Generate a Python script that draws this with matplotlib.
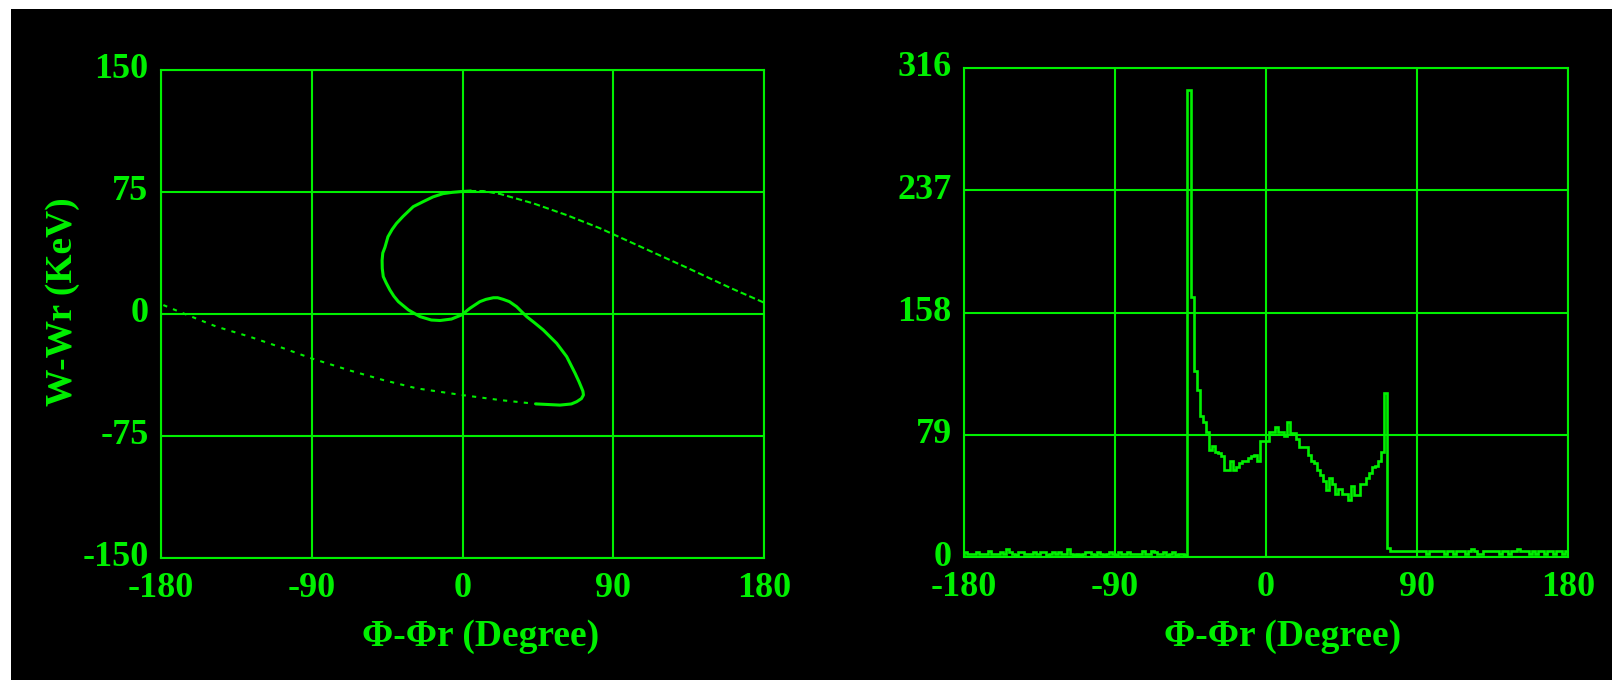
import numpy as np
import matplotlib.pyplot as plt
from matplotlib.patches import Rectangle
from matplotlib.transforms import ScaledTranslation

plt.rcParams["axes.unicode_minus"] = False

GREEN = "#00f000"
FONT = "Liberation Serif"

# phase-space trajectory, split into the sparse tails and the dense core
tail_lo_phi = [-178.6, -166.7, -146.8, -126.9, -107.0, -90.4, -67.0, -47.3, -27.4, -0.5, 22.4, 44.3]
tail_lo_w = [5.5, 0.4, -7.8, -14.0, -21.0, -27.2, -34.8, -40.6, -45.7, -49.8, -52.9, -55.3]

core_phi = [44.3, 58.2, 65.0, 68.2, 71.0, 72.2, 71.9, 71.2, 69.5, 67.2, 62.2, 56.2, 48.2,
            43.0, 38.3, 32.3, 28.0, 24.3, 21.0, 18.4, 14.0, 10.4, 4.4, -0.6, -6.6, -13.4,
            -18.6, -25.4, -32.3, -38.3, -41.0, -43.3, -45.5, -47.3, -47.9, -48.0, -47.6,
            -46.3, -44.5, -42.0, -39.4, -35.5, -29.4, -23.6, -17.6, -11.6, -6.0, -1.6, 4.5]
core_w = [-55.3, -56.0, -55.3, -53.9, -52.0, -49.8, -47.5, -45.7, -41.5, -36.4, -26.2, -18.0, -9.8,
          -5.4, -1.6, 4.5, 7.6, 9.0, 10.0, 10.0, 9.0, 7.6, 3.5, -0.6, -3.1, -4.0,
          -3.7, -1.6, 2.5, 7.6, 11.0, 14.7, 19.0, 23.0, 28.0, 33.0, 37.5,
          41.0, 47.5, 52.0, 55.7, 60.0, 66.0, 69.0, 72.0, 74.0, 74.8, 75.2, 75.6]

tail_hi_phi = [4.5, 12.4, 22.4, 42.3, 62.2, 82.1, 90.0, 135.0, 160.0, 180.0]
tail_hi_w = [75.6, 75.6, 73.8, 68.0, 60.8, 52.7, 49.0, 28.0, 16.0, 7.0]

# phase histogram, 200 bins over [-180, 180]
counts_left = [3, 2, 2, 2, 3, 2, 2, 2, 4, 2,
               2, 2, 3, 2, 5, 3, 2, 1, 3, 3,
               2, 2, 2, 3, 2, 3, 3, 1, 2, 3,
               2, 3, 2, 2, 5, 2, 1, 2, 1, 2,
               3, 3, 2, 1, 3, 2, 1, 2, 3, 2,
               1, 3, 2, 2, 3, 2, 2, 2, 2, 4,
               2, 2, 4, 3, 2, 2, 3, 1, 2, 3,
               1, 2, 2, 1]
counts_mid = [302, 168, 120, 108, 91, 87, 81, 69, 72, 68,
              67, 65, 56, 56, 62, 56, 58, 61, 62, 62,
              64, 65, 66, 62, 75, 75, 75, 81, 81, 84,
              81, 81, 78, 87, 80, 80, 76, 71, 71, 71,
              66, 62, 61, 56, 53, 49, 43, 51, 47, 41,
              44, 41, 41, 37, 46, 40, 40, 47, 47, 51,
              54, 58, 59, 62, 68, 106]
counts_right = [6, 4, 4, 4, 4, 4, 4, 4, 4, 4,
                4, 4, 4, 2, 4, 4, 4, 4, 4, 2,
                4, 4, 2, 4, 4, 4, 2, 4, 5, 4,
                2, 2, 4, 4, 4, 4, 4, 2, 4, 4,
                2, 4, 4, 5, 4, 4, 4, 2, 4, 2,
                4, 4, 2, 4, 4, 2, 4, 4, 2, 4]

x_ticks = [-180, -90, 0, 90, 180]
w_ticks = [-150, -75, 0, 75, 150]
n_ticks = [0, 79, 158, 237, 316]

W, H = 1612, 680
fig = plt.figure(figsize=(W / 100, H / 100), dpi=100, facecolor="white")
# black screen area inside a thin white margin
fig.patches.append(Rectangle((11 / W, 0), 1 - 11 / W, 1 - 9 / H,
                             transform=fig.transFigure, facecolor="black",
                             edgecolor="none", zorder=-10))

# y tick labels sit a few pixels above their grid line
lift = ScaledTranslation(0, 4 / 100, fig.dpi_scale_trans)


def style_axes(ax, yticks):
    ax.set_facecolor("black")
    ax.set_xlim(-180, 180)
    ax.set_ylim(yticks[0], yticks[-1])
    ax.set_xticks(x_ticks)
    ax.set_yticks(yticks)
    ax.grid(True, color=GREEN, linewidth=1.5)
    ax.set_axisbelow(True)
    for sp in ax.spines.values():
        sp.set_color(GREEN)
        sp.set_linewidth(1.5)
    ax.tick_params(length=0, colors=GREEN, pad=10)
    ax.tick_params(axis="y", pad=9)
    for lab in ax.get_xticklabels() + ax.get_yticklabels():
        lab.set_fontfamily(FONT)
        lab.set_fontweight("bold")
        lab.set_fontsize(26)
    for lab in ax.get_yticklabels():
        lab.set_transform(lab.get_transform() + lift)


ax1 = fig.add_axes([161 / W, 1 - 558 / H, 603 / W, 488 / H])
style_axes(ax1, w_ticks)
ax1.plot(tail_lo_phi, tail_lo_w, color=GREEN, lw=1.5, ls=(0, (2, 3)))
ax1.plot(core_phi, core_w, color=GREEN, lw=2.2, solid_joinstyle="round")
ax1.plot(tail_hi_phi, tail_hi_w, color=GREEN, lw=1.5, ls=(0, (3, 1.5)))

ax2 = fig.add_axes([964 / W, 1 - 557 / H, 604 / W, 489 / H])
style_axes(ax2, n_ticks)
counts = np.array(counts_left + counts_mid + counts_right)
edges = np.linspace(-180, 180, len(counts) + 1)
ax2.stairs(counts, edges, color=GREEN, lw=1.9)

label_kw = dict(color=GREEN, fontfamily=FONT, fontweight="bold", fontsize=27)
fig.text(63 / W, 1 - 302 / H, "W-Wr (KeV)", rotation=90, ha="center", va="center", **label_kw)
fig.text(481 / W, 1 - 637 / H, "Φ-Φr (Degree)", ha="center", va="center", **label_kw)
fig.text(1283 / W, 1 - 636 / H, "Φ-Φr (Degree)", ha="center", va="center", **label_kw)

fig.savefig("out.png", dpi=100, facecolor=fig.get_facecolor())
